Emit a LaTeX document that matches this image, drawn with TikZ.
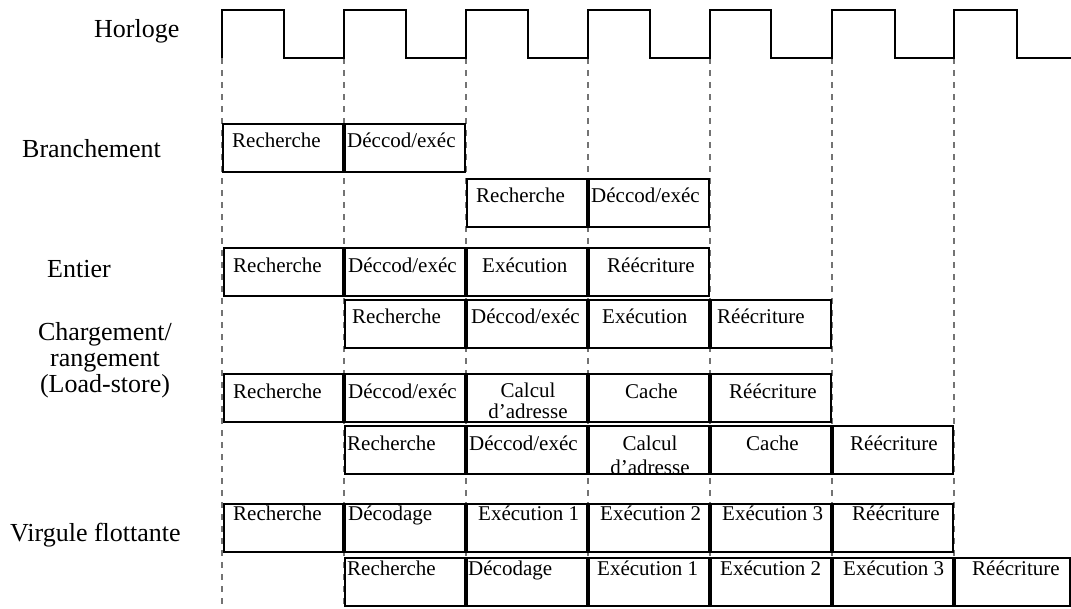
\documentclass[tikz,border=0pt]{standalone}
\usepackage{fontspec}
\setmainfont{Liberation Serif}
% one pipeline stage: name, left column, right column, top, bottom, text x, text baseline, text
\newcommand\pstage[8]{%
  \node[stagebox, minimum width={(#3-#2-2)*1pt}, minimum height={(#5-#4)*1pt}] (#1) at (#2+1,#4) {};
  \node[stagetext] (#1t) at (#6,#7) {#8};}
\begin{document}
\begin{tikzpicture}[x=1pt,y=-1pt,
  stagebox/.style={draw=black, line width=1.5pt, fill=white, inner sep=0pt, outer sep=0pt, anchor=north west},
  stagetext/.style={inner sep=0pt, anchor=base west, font=\fontsize{21}{22}\selectfont},
  stagectr/.style={stagetext, anchor=base},
  rowlabel/.style={inner sep=0pt, anchor=base west, font=\fontsize{26}{30}\selectfont},
  rowlabelc/.style={rowlabel, anchor=base},
  clock/.style={draw=black, line width=1.6pt},
  tick/.style={draw=black!55, line width=1.2pt, dash pattern=on 6pt off 6pt}]
\useasboundingbox (0,0) rectangle (1071,608);

% clock edges
\foreach \c in {222,344,466,588,710,832,954}
  \coordinate (e\c) at (\c,58);
\foreach \c in {222,344,466,588,710,832,954}
  \draw[tick] (e\c) -- (\c,608);
\draw[clock] (222,58) -- (222,10) -- (284,10) -- (284,58) -- (344,58)
  -- (344,10) -- (406,10) -- (406,58) -- (466,58)
  -- (466,10) -- (528,10) -- (528,58) -- (588,58)
  -- (588,10) -- (650,10) -- (650,58) -- (710,58)
  -- (710,10) -- (771,10) -- (771,58) -- (832,58)
  -- (832,10) -- (895,10) -- (895,58) -- (954,58)
  -- (954,10) -- (1017,10) -- (1017,58) -- (1071,58);

% row labels
\node[rowlabel] (lclk) at (94,37) {Horloge};
\node[rowlabel] (lbr) at (22,157) {Branchement};
\node[rowlabel] (lint) at (47,277) {Entier};
\node[rowlabelc] (lls1) at (105,340) {Chargement/};
\node[rowlabelc] (lls2) at (105,366) {rangement};
\node[rowlabelc] (lls3) at (105,392) {(Load-store)};
\node[rowlabel] (lfp) at (10,541) {Virgule flottante};

% branch
\pstage{b1a}{222}{344}{124}{172}{232}{147}{Recherche}
\pstage{b1b}{344}{466}{124}{172}{347}{147}{Déccod/exéc}
\pstage{b2a}{466}{588}{179}{227}{476}{202}{Recherche}
\pstage{b2b}{588}{710}{179}{227}{591}{202}{Déccod/exéc}

% integer
\pstage{i1a}{223}{344}{248}{296}{233}{272}{Recherche}
\pstage{i1b}{344}{466}{248}{296}{348}{272}{Déccod/exéc}
\pstage{i1c}{466}{588}{248}{296}{482}{272}{Exécution}
\pstage{i1d}{588}{710}{248}{296}{607}{272}{Réécriture}
\pstage{i2a}{344}{466}{300}{348}{352}{323}{Recherche}
\pstage{i2b}{466}{588}{300}{348}{471}{323}{Déccod/exéc}
\pstage{i2c}{588}{710}{300}{348}{602}{323}{Exécution}
\pstage{i2d}{710}{832}{300}{348}{717}{323}{Réécriture}

% load-store
\pstage{l1a}{223}{344}{374}{422}{233}{398}{Recherche}
\pstage{l1b}{344}{466}{374}{422}{348}{398}{Déccod/exéc}
\node[stagebox, minimum width=120pt, minimum height=48pt] (l1c) at (467,374) {};
\node[stagectr] (l1ct) at (528,397) {Calcul};
\node[stagectr] (l1c2) at (528,418) {d’adresse};
\pstage{l1d}{588}{710}{374}{422}{625}{398}{Cache}
\pstage{l1e}{710}{832}{374}{422}{729}{398}{Réécriture}
\pstage{l2a}{344}{466}{426}{474}{347}{450}{Recherche}
\pstage{l2b}{466}{588}{426}{474}{469}{450}{Déccod/exéc}
\node[stagebox, minimum width=120pt, minimum height=48pt] (l2c) at (589,426) {};
\node[stagectr] (l2ct) at (650,450) {Calcul};
\begin{scope}
  \clip (590,427) rectangle (708,472);
  \node[stagectr] (l2c2) at (650,474) {d’adresse};
\end{scope}
\pstage{l2d}{710}{832}{426}{474}{746}{450}{Cache}
\pstage{l2e}{832}{954}{426}{474}{850}{450}{Réécriture}

% floating point
\pstage{f1a}{223}{344}{504}{552}{233}{520}{Recherche}
\pstage{f1b}{344}{466}{504}{552}{348}{520}{Décodage}
\pstage{f1c}{466}{588}{504}{552}{478}{520}{Exécution 1}
\pstage{f1d}{588}{710}{504}{552}{600}{520}{Exécution 2}
\pstage{f1e}{710}{832}{504}{552}{722}{520}{Exécution 3}
\pstage{f1f}{832}{954}{504}{552}{852}{520}{Réécriture}
\pstage{f2a}{344}{466}{558}{606}{347}{575}{Recherche}
\pstage{f2b}{466}{588}{558}{606}{468}{575}{Décodage}
\pstage{f2c}{588}{710}{558}{606}{597}{575}{Exécution 1}
\pstage{f2d}{710}{832}{558}{606}{720}{575}{Exécution 2}
\pstage{f2e}{832}{954}{558}{606}{843}{575}{Exécution 3}
\pstage{f2f}{954}{1071}{558}{606}{972}{575}{Réécriture}
\end{tikzpicture}
\end{document}
